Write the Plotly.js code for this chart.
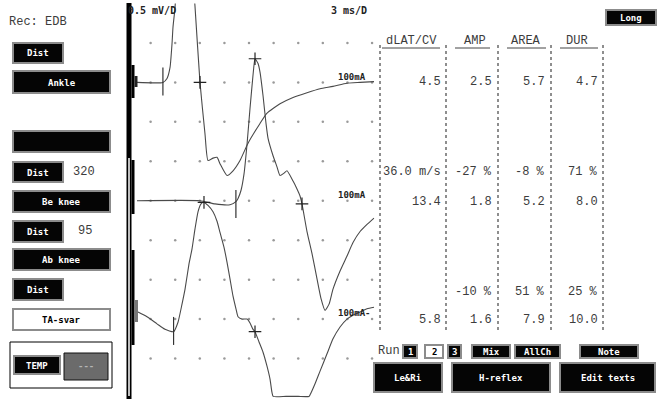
<!DOCTYPE html>
<html>
<head>
<meta charset="utf-8">
<script src="https://cdn.plot.ly/plotly-3.0.1.min.js"></script>
<style>
  html, body { margin: 0; padding: 0; background: #fff; }
  #chart { width: 657px; height: 401px; }
</style>
</head>
<body>
<div id="chart"></div>
<script>
// Motor nerve conduction, EDB recording: three stimulation sites (Ankle, Be knee, Ab knee)
// Time in ms after stimulus, amplitude in mV relative to each trace's baseline.
const ankleT = [1.34, 4.5, 5.0, 5.37, 5.61, 5.73, 5.98, 6.4, 6.9, 7.3, 7.7, 8.1, 8.41, 9.02, 9.63, 10.0, 10.61, 11.1, 11.46, 12.32, 13.05, 13.9, 14.88, 16.34, 17.2, 18.78, 20.37, 22.07, 23.66, 25.24, 26.95, 28.54, 30.24];
const ankleMv = [0, 0, 0.05, 0.19, 0.49, 0.70, 0.95, 1.7, 2.4, 2.5, 2.2, 1.4, 0.97, 0, -0.65, -0.99, -0.96, -0.95, -1.03, -1.18, -1.12, -0.99, -0.77, -0.52, -0.39, -0.27, -0.19, -0.13, -0.08, -0.05, -0.01, 0, 0.01];

const beKneeT = [1.34, 9.02, 10.85, 12.68, 13.4, 13.66, 14.02, 14.39, 14.76, 15.12, 15.37, 15.61, 15.73, 16.1, 16.34, 16.71, 17.07, 17.32, 17.93, 18.41, 18.78, 19.27, 19.63, 20.37, 20.85, 21.22, 21.46, 22.07, 22.68, 23.29, 23.78, 24.27, 24.76, 25.24, 26.1, 26.95, 27.68, 28.54, 29.39, 30.24];
const beKneeMv = [0, 0, -0.04, -0.05, -0.01, 0.03, 0.13, 0.34, 0.72, 1.17, 1.46, 1.72, 1.8, 1.74, 1.63, 1.33, 0.98, 0.79, 0.57, 0.43, 0.32, 0.35, 0.38, 0.25, 0.15, 0.06, -0.04, -0.39, -0.67, -0.99, -1.24, -1.39, -1.31, -1.12, -0.89, -0.70, -0.53, -0.39, -0.30, -0.22];

// the ab-knee response saturates at the lower edge of the display (flat run)
const abKneeT = [1.46, 2.56, 3.78, 4.76, 5.8, 6.34, 6.83, 7.2, 7.68, 8.05, 8.41, 8.78, 9.15, 9.51, 10.0, 10.61, 11.1, 11.46, 11.95, 12.32, 12.68, 13.05, 13.41, 13.66, 14.15, 14.76, 15.12, 15.49, 15.73, 16.22, 16.71, 17.2, 17.56, 17.8, 17.95, 19.5, 21.0, 22.3, 22.44, 23.05, 23.66, 24.51, 25.24, 26.1, 26.95, 27.68, 28.54, 29.39, 30.24];
const abKneeMv = [0.09, 0.03, -0.06, -0.13, -0.16, -0.04, 0.19, 0.38, 0.70, 0.89, 1.14, 1.36, 1.46, 1.48, 1.44, 1.36, 1.24, 1.10, 0.91, 0.72, 0.51, 0.29, 0.13, 0.03, 0, 0, -0.05, -0.13, -0.16, -0.29, -0.42, -0.60, -0.76, -0.93, -0.98, -0.98, -0.98, -0.98, -0.96, -0.82, -0.66, -0.44, -0.25, -0.10, 0, 0.05, 0.09, 0.13, 0.15];

// Cursor marks per trace (ankle, be knee, ab knee)
const onsetT = [4.5, 13.4, 5.8];
const onsetMv = [0.01, -0.04, -0.15];
const crossT = [9.02, 21.46, 15.73];
const crossMv = [0, -0.04, -0.16];
const peakT = [15.73, 9.51];
const peakMv = [1.8, 1.48];

// Result table
const headers = ['dLAT/CV', 'AMP', 'AREA', 'DUR'];
const dLat = ['4.5', '13.4', '5.8'];
const amp = ['2.5', '1.8', '1.6'];
const area = ['5.7', '5.2', '7.9'];
const dur = ['4.7', '8.0', '10.0'];
const cvRow = ['36.0 m/s', '', ''];
const ampPct = ['-27 %', '-10 %'];
const areaPct = ['-8 %', '51 %'];
const durPct = ['71 %', '25 %'];
const distances = ['320', '95'];
const stimLabel = '100mA';

// ---------- layout helpers (pixel -> paper) ----------
const W = 657, H = 401;
const px = x => x / W;
const py = y => 1 - y / H;
const shapes = [];
const ann = [];
const MONO = 'Liberation Mono';
const BTN = 'DejaVu Sans Mono';

function rect(x0, y0, x1, y1, fill, lineColor, lw) {
  shapes.push({type: 'rect', xref: 'paper', yref: 'paper', layer: 'above',
    x0: px(x0), x1: px(x1), y0: py(y1), y1: py(y0),
    fillcolor: fill, line: {color: lineColor || fill, width: lw === undefined ? 0 : lw}});
}
function seg(x0, y0, x1, y1, color, w, dash) {
  shapes.push({type: 'line', xref: 'paper', yref: 'paper', layer: 'above',
    x0: px(x0), x1: px(x1), y0: py(y0), y1: py(y1),
    line: {color: color, width: w, dash: dash || 'solid'}});
}
function text(x, y, s, anchor, font) {
  ann.push({xref: 'paper', yref: 'paper', x: px(x), y: py(y), text: s, showarrow: false,
    xanchor: anchor || 'left', yanchor: 'middle', font: font, borderpad: 0});
}
function button(x0, y0, x1, y1, label, inverted) {
  rect(x0, y0, x1, y1, inverted ? '#ffffff' : '#050505', '#8c8c8c', 2);
  if (label) {
    text((x0 + x1) / 2, (y0 + y1) / 2 + 0.5, '<b>' + label + '</b>', 'center',
      {family: BTN, size: 9, color: inverted ? '#000' : '#fff'});
  }
}
const tfont = {family: MONO, size: 12, color: '#3c3c3c'};

// ---------- left control panel ----------
text(8, 22, 'Rec: EDB', 'left', tfont);
button(13, 43, 63, 63, 'Dist');
button(13, 71, 110, 93, 'Ankle');
button(13, 131, 110, 152, '');
button(13, 162, 63, 182, 'Dist');
text(72, 172, distances[0], 'left', tfont);
button(13, 191, 110, 212, 'Be knee');
button(13, 221, 63, 242, 'Dist');
text(77, 231, distances[1], 'left', tfont);
button(13, 249, 110, 270, 'Ab knee');
button(13, 279, 63, 300, 'Dist');
button(13, 309, 110, 330, 'TA-svar', true);
rect(10, 342, 112, 388, '#ffffff', '#000000', 1);
button(14, 356, 60, 374, 'TEMP');
rect(64, 353, 108, 380, '#6b6b6b', '#111111', 1);
text(86, 366, '<b>---</b>', 'center', {family: BTN, size: 9, color: '#b5b5b5'});

// ---------- trace area frame (stimulus bar) ----------
rect(126.5, 3, 131.5, 399, '#000000');
seg(129, 158, 129, 396, '#ffffff', 1.5);
rect(131.5, 65, 134.5, 98, '#000000');
rect(131.5, 160, 134.5, 214, '#000000');
rect(131.5, 250, 134.5, 345, '#000000');
rect(134.5, 76, 137.5, 87, '#222222');
rect(134.5, 300, 138, 322, '#777777');

text(127, 11, '<b>0.5 mV/D</b>', 'left', {family: BTN, size: 10, color: '#222'});
text(368, 11, '<b>3 ms/D</b>', 'right', {family: BTN, size: 10, color: '#222'});
const stimY = [77, 195, 313];
stimY.forEach((y, i) => text(337, y, '<b>' + stimLabel + (i === 2 ? '-' : '') + '</b>', 'left',
  {family: BTN, size: 9, color: '#222'}));

// ---------- result table ----------
const colLines = [380, 446, 498, 551, 603];
colLines.forEach(x => seg(x, 45, x, 330, '#444444', 1.2, 'dot'));
const headCenter = [411, 475, 526, 577];
const ulines = [[382, 440], [455, 490], [507, 546], [560, 598]];
headers.forEach((h, i) => {
  text(headCenter[i], 41, h, 'center', tfont);
  seg(ulines[i][0], 48, ulines[i][1], 48, '#444444', 1);
});
const colRight = [442, 493, 546, 599];
const siteRows = [82, 202, 320];
siteRows.forEach((y, r) => {
  [dLat, amp, area, dur].forEach((col, c) => text(colRight[c], y, col[r], 'right', tfont));
});
const cmpRows = [172, 292];
cmpRows.forEach((y, r) => {
  if (cvRow[r]) text(colRight[0], y, cvRow[r], 'right', tfont);
  text(colRight[1], y, ampPct[r], 'right', tfont);
  text(colRight[2], y, areaPct[r], 'right', tfont);
  text(colRight[3], y, durPct[r], 'right', tfont);
});

// ---------- bottom-right controls ----------
button(606, 10, 656, 25, 'Long');
text(377, 351, 'Run', 'left', tfont);
button(403, 345, 417, 358, '1');
button(425, 345, 443, 358, '2', true);
button(448, 345, 461, 358, '3');
button(472, 345, 510, 358, 'Mix');
button(515, 345, 560, 358, 'AllCh');
button(580, 345, 638, 358, 'Note');
button(374, 363, 442, 392, 'Le&amp;Ri');
button(452, 363, 550, 392, 'H-reflex');
button(560, 363, 655, 392, 'Edit texts');

// ---------- waveforms ----------
const baseline = [-1.0, -2.5, -4.0]; // trace baselines in the 5 mV window (0.5 mV/D)
const shift = (arr, k) => arr.map(v => v + baseline[k]);
const lineStyle = {color: '#4a4a4a', width: 1.1, shape: 'spline', smoothing: 0.5};

const gx = [], gy = [];
for (let i = 1; i <= 10; i++) for (let j = 1; j <= 9; j++) { gx.push(3 * i); gy.push(-0.5 * j); }

const traces = [
  {x: gx, y: gy, mode: 'markers', marker: {size: 2.5, color: '#9a9a9a'}, hoverinfo: 'skip'},
  {x: ankleT, y: shift(ankleMv, 0), mode: 'lines', line: lineStyle},
  {x: beKneeT, y: shift(beKneeMv, 1), mode: 'lines', line: lineStyle},
  {x: abKneeT, y: shift(abKneeMv, 2), mode: 'lines', line: lineStyle},
  {x: onsetT, y: onsetMv.map((v, k) => v + baseline[k]), mode: 'markers', cliponaxis: false,
    marker: {symbol: 'line-ns', size: 20, line: {color: '#333', width: 1.2}}},
  {x: crossT, y: crossMv.map((v, k) => v + baseline[k]), mode: 'markers',
    marker: {symbol: 'cross-thin', size: 9, line: {color: '#222', width: 1.2}}},
  {x: peakT, y: peakMv.map((v, k) => v + baseline[k + 1]), mode: 'markers',
    marker: {symbol: 'cross-thin', size: 9, line: {color: '#222', width: 1.2}}}
];

const layout = {
  width: W, height: H,
  margin: {l: 0, r: 0, t: 0, b: 0},
  paper_bgcolor: '#ffffff', plot_bgcolor: 'rgba(0,0,0,0)',
  showlegend: false,
  xaxis: {domain: [px(126), px(374.5)], range: [0, 30.3], visible: false, fixedrange: true},
  yaxis: {domain: [py(398), py(3.5)], range: [-5, 0], visible: false, fixedrange: true},
  shapes: shapes,
  annotations: ann
};

Plotly.newPlot('chart', traces, layout, {staticPlot: true, displayModeBar: false});
</script>
</body>
</html>
